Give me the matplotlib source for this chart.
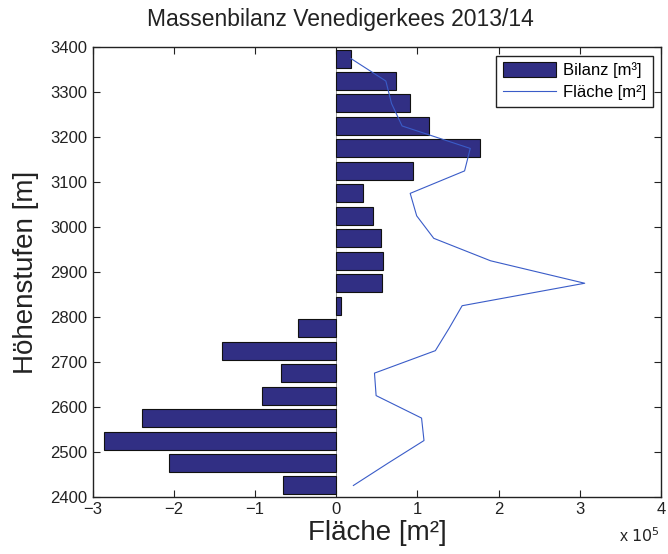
import numpy as np
import matplotlib
matplotlib.use("Agg")
import matplotlib.pyplot as plt

plt.rcParams["font.family"] = ["Liberation Sans", "DejaVu Sans"]

# elevation bands (centres, m)
hoehe = [2425, 2475, 2525, 2575, 2625, 2675, 2725, 2775, 2825, 2875,
         2925, 2975, 3025, 3075, 3125, 3175, 3225, 3275, 3325, 3375]
# mass balance per band [m^3], in units of 1e5
bilanz = [-0.66, -2.06, -2.86, -2.39, -0.92, -0.68, -1.41, -0.47, 0.06, 0.56,
          0.57, 0.55, 0.45, 0.33, 0.94, 1.77, 1.14, 0.91, 0.74, 0.18]
# area per band [m^2], in units of 1e5
flaeche = [0.21, 0.64, 1.08, 1.05, 0.49, 0.47, 1.22, 1.39, 1.55, 3.06,
           1.90, 1.20, 0.99, 0.91, 1.58, 1.65, 0.81, 0.68, 0.61, 0.18]

fig = plt.figure(figsize=(6.68, 5.54), dpi=100)
ax = fig.add_axes([0.139, 0.1034, 0.8505, 0.8112])

bars = ax.barh(hoehe, bilanz, height=40, color="#312f84", edgecolor="#111111",
               linewidth=0.8, label="Bilanz [m³]", zorder=2)
line, = ax.plot(flaeche, hoehe, color="#3a5cc8", linewidth=0.8,
                label="Fläche [m²]", zorder=3)
ax.axvline(0, color="#888888", linewidth=0.6, zorder=1)

ax.set_xlim(-3, 4)
ax.set_ylim(2400, 3400)
ax.set_xticks(np.arange(-3, 5, 1))
ax.set_yticks(np.arange(2400, 3500, 100))
ax.set_xticklabels(["\u22123", "\u22122", "\u22121", "0", "1", "2", "3", "4"])
ax.tick_params(direction="in", top=True, right=True, length=5,
               width=0.8, labelsize=12, pad=4, colors="#222222")
for s in ax.spines.values():
    s.set_linewidth(1.0)
    s.set_color("#222222")

ax.set_title("Massenbilanz Venedigerkees 2013/14", fontsize=16.5,
             color="#222222", pad=15, x=0.435)
ax.set_xlabel("Fläche [m²]", fontsize=20, color="#222222", labelpad=2)
ax.set_ylabel("Höhenstufen [m]", fontsize=20, color="#222222", labelpad=8)
fig.text(0.988, 0.017, "x $10^{5}$", ha="right", va="bottom",
         fontsize=11.5, color="#222222")

leg = ax.legend([bars, line], ["Bilanz [m³]", "Fläche [m²]"],
                loc="upper right", fontsize=12, handlelength=3.2,
                handleheight=1.0, fancybox=False, framealpha=1,
                edgecolor="#222222", borderpad=0.4, labelspacing=0.35,
                handletextpad=0.4, borderaxespad=0.5)
leg.get_frame().set_linewidth(1.0)

fig.savefig("out.png", dpi=100)
